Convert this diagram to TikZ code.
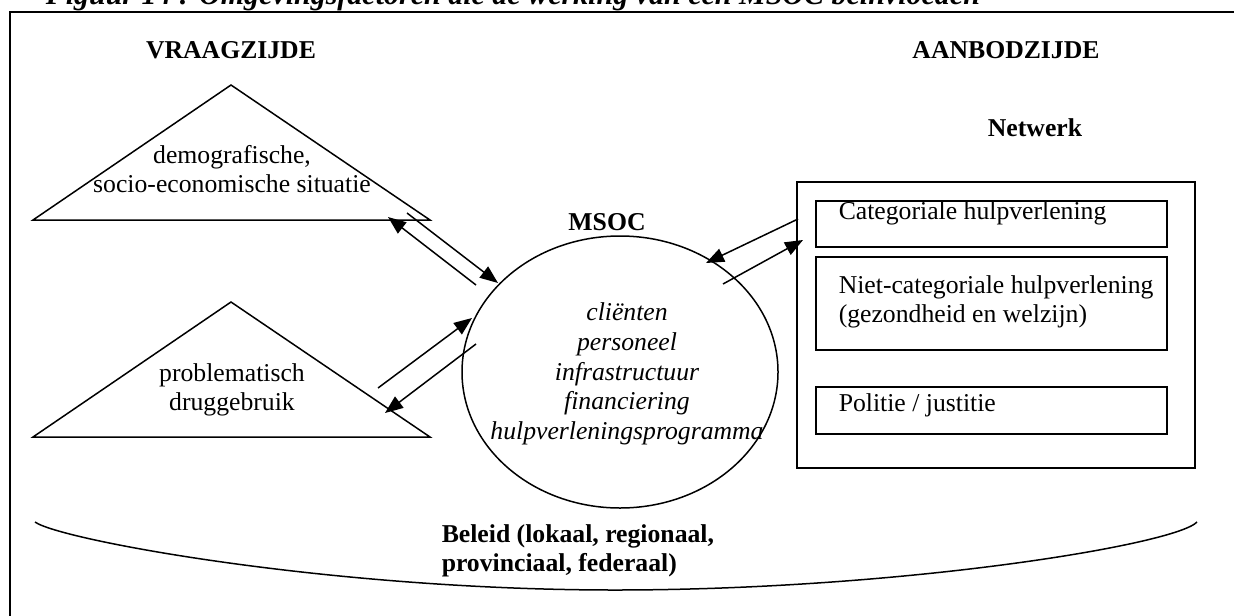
\documentclass[tikz,border=0pt]{standalone}
\usepackage{fontspec}
\setmainfont{Liberation Serif}
\usetikzlibrary{arrows.meta,shapes.geometric,positioning}

\begin{document}
\begin{tikzpicture}[x=0.5pt,y=-0.5pt,line width=0.75pt,
		font=\fontsize{12.85}{14.8}\selectfont,
		pijl/.style={-{Triangle[length=9pt,width=7pt]}},
		vak/.style={draw,minimum width=175.5pt,inner sep=0pt}]
		\useasboundingbox (0,0) rectangle (1234,615);
		\clip (0,0) rectangle (1234,615);
		
		% titel en kader
		\node[anchor=base west,inner sep=0pt,font=\fontsize{15}{17}\selectfont\bfseries\itshape] (titel) at (45,5) {Figuur 14 : Omgevingsfactoren die de werking van een MSOC beïnvloeden};
		\draw[line width=1.2pt] (10,620) -- (10,12) -- (1240,12);
		
		\node[font=\fontsize{12.85}{14.8}\selectfont\bfseries] (vraag) at (231,50) {VRAAGZIJDE};
		\node[font=\fontsize{12.85}{14.8}\selectfont\bfseries] (aanbod) at (1006,50) {AANBODZIJDE};
		\node[font=\fontsize{12.85}{14.8}\selectfont\bfseries] (netwerk) at (1035,128) {Netwerk};
		\node[font=\fontsize{12.85}{14.8}\selectfont\bfseries] (msoclabel) at (607,222) {MSOC};
		
		% vraagzijde
		\draw (33,220) -- (231,85) -- (430,220) -- cycle;
		\node[align=center] (demo) at (232,169) {demografische,\\socio-economische situatie};
		\draw (33,437) -- (231,302) -- (430,437) -- cycle;
		\node[align=center] (drug) at (232,390) {problematisch\\druggebruik};
		
		% MSOC
		\node[draw,ellipse,minimum width=158pt,minimum height=136pt,inner sep=0pt] (msoc) at (620,372) {};
		\node[align=center,font=\fontsize{12.85}{14.8}\selectfont\itshape] (msoctxt) at (627,374) {cliënten\\personeel\\infrastructuur\\financiering\\hulpverleningsprogramma};
		
		% netwerk
		\node[draw,minimum width=199pt,minimum height=143pt] (kader) at (996,325) {};
		\node[vak,minimum height=23pt] (cat) at (991.5,224) {};
		\node[vak,minimum height=46.5pt] (nietcat) at (991.5,303.5) {};
		\node[vak,minimum height=23.5pt] (pol) at (991.5,410.5) {};
		\node[anchor=west,inner sep=0pt] (cattxt) at (838,213) {Categoriale hulpverlening};
		\node[anchor=west,inner sep=0pt,align=left] (nietcattxt) at (838,302) {Niet-categoriale hulpverlening\\(gezondheid en welzijn)};
		\node[anchor=west,inner sep=0pt] (poltxt) at (838,405) {Politie / justitie};
		
		% pijlen
		\coordinate (a1) at (476,285); \coordinate (a2) at (388,217);
		\coordinate (b1) at (407,213); \coordinate (b2) at (498,283);
		\coordinate (c1) at (378,388); \coordinate (c2) at (472,318);
		\coordinate (d1) at (476,344); \coordinate (d2) at (385,413);
		\coordinate (e1) at (798,219); \coordinate (e2) at (706,263);
		\coordinate (f1) at (723,284); \coordinate (f2) at (803,240);
		\draw[pijl] (a1) -- (a2);
		\draw[pijl] (b1) -- (b2);
		\draw[pijl] (c1) -- (c2);
		\draw[pijl] (d1) -- (d2);
		\draw[pijl] (e1) -- (e2);
		\draw[pijl] (f1) -- (f2);
		
		% beleid
		\coordinate (bl) at (35,522);
		\coordinate (bm) at (615,590);
		\coordinate (br) at (1197,522);
		\draw (bl) .. controls (60,540) and (330,590) .. (bm) .. controls (900,590) and (1175,545) .. (br);
		\node[anchor=west,inner sep=0pt,align=left,font=\fontsize{12.85}{14.8}\selectfont\bfseries] (beleid) at (441,551) {Beleid (lokaal, regionaal,\\provinciaal, federaal)};
\end{tikzpicture}
\end{document}
